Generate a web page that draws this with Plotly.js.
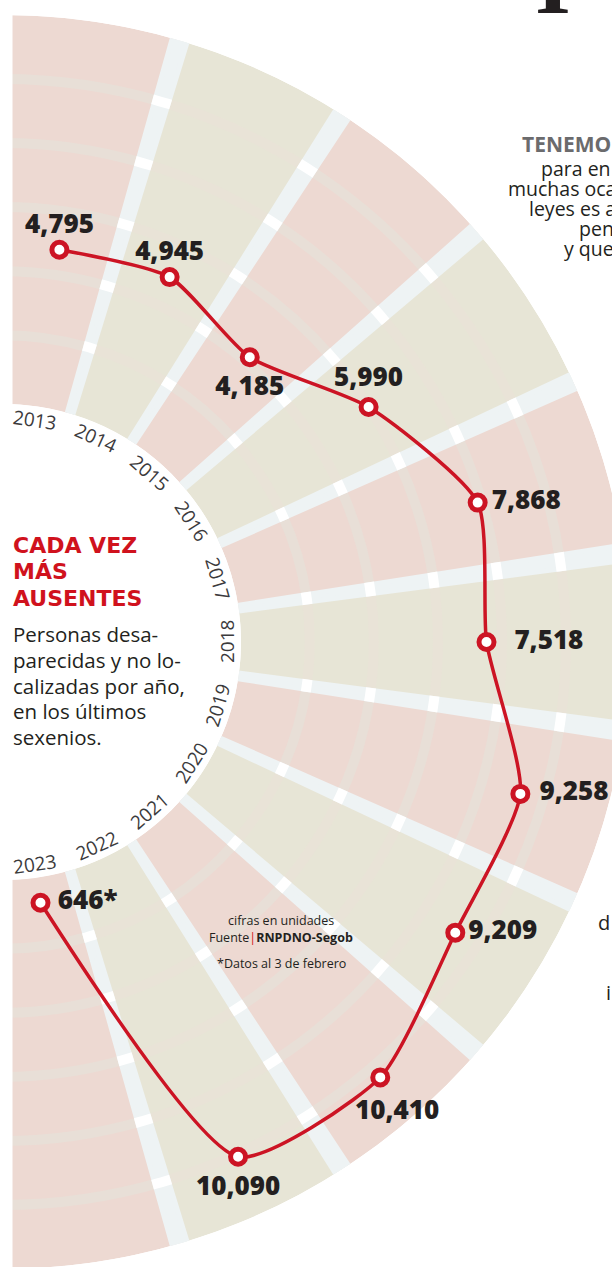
<!DOCTYPE html>
<html>
<head>
<meta charset="utf-8">
<script src="https://cdn.plot.ly/plotly-3.0.1.min.js"></script>
<style>
html,body{margin:0;padding:0;overflow:hidden;background:#fff;width:612px;height:1267px;}
#chart{position:absolute;left:0;top:0;width:640px;height:1290px;}
</style>
</head>
<body>
<div id="chart"></div>
<script>
// ---- data ----
const years = ['2013','2014','2015','2016','2017','2018','2019','2020','2021','2022','2023'];
const values = [4795, 4945, 4185, 5990, 7868, 7518, 9258, 9209, 10410, 10090, 646];
const valueLabels = ['4,795','4,945','4,185','5,990','7,868','7,518','9,258','9,209','10,410','10,090','646*'];
const ringValues = [2000, 4000, 6000, 8000, 10000];
const radialMin = -150, radialMax = 12000;

// ---- label placement (style) ----
const labelPositions = ['top center','top center','bottom center','top center','middle right','middle right','middle right','middle right','bottom center','bottom center','middle right'];
const labelGap = [15, 15, 27, 21, 21, 43, 29, 19, 33, 29, 26];
const labelPad = [0, 0, 0, 0, 0, 0, 0, 0, 5, 0, 0];

// ---- style ----
const PINK = '#edd9d2', GREEN = '#e7e5d6', GAP = '#eef3f4';
const RING_PINK = '#e8dfd7', RING_GREEN = '#e9e3d7';
const RED = '#cc1424', INK = '#231f20';

// ---- geometry of the figure ----
const W = 640, H = 1290, ML = 3, MR = 10, MT = 15, MB = 21;
const PW = W - ML - MR, PH = H - MT - MB;   // 627 x 1254
const R = PW, CX = ML, CY = MT + PH / 2;
const HOLE = 238 / R;
const pxPerUnit = (R - HOLE * R) / (radialMax - radialMin);
const px = x => (x - ML) / PW;
const py = y => 1 - (y - MT) / PH;

const step = 180 / years.length;
const thetas = years.map((_, i) => (i + 0.5) * step);
const bounds = years.slice(1).map((_, i) => (i + 1) * step);
const sectorColors = years.map((_, i) => i % 2 ? GREEN : PINK);
const ringColors = years.map((_, i) => i % 2 ? RING_GREEN : RING_PINK);

const ringThick = 10 / pxPerUnit;
const gapDeg = 1.4;
const lineInset = 2.5 / pxPerUnit;

const traces = [];
// sectors
traces.push({
  type: 'barpolar', theta: thetas, r: years.map(() => radialMax - radialMin), base: radialMin,
  width: step, marker: { color: sectorColors, line: { width: 0 } }, hoverinfo: 'skip', showlegend: false
});
// ring bands on sectors
{
  const th = [], rr = [], bb = [], cc = [];
  ringValues.forEach(v => years.forEach((_, i) => {
    th.push(thetas[i]); rr.push(ringThick); bb.push(v - ringThick / 2); cc.push(ringColors[i]);
  }));
  traces.push({ type: 'barpolar', theta: th, r: rr, base: bb, width: step,
    marker: { color: cc, line: { width: 0 } }, hoverinfo: 'skip', showlegend: false });
}
// gaps
traces.push({
  type: 'barpolar', theta: bounds, r: bounds.map(() => radialMax - radialMin), base: radialMin,
  width: gapDeg, marker: { color: GAP, line: { color: GAP, width: 5 } }, hoverinfo: 'skip', showlegend: false
});
// white crossings
{
  const th = [], rr = [], bb = [];
  ringValues.forEach(v => bounds.forEach(b => {
    th.push(b); rr.push(ringThick - 2 * lineInset); bb.push(v - ringThick / 2 + lineInset);
  }));
  traces.push({ type: 'barpolar', theta: th, r: rr, base: bb, width: gapDeg,
    marker: { color: '#ffffff', line: { color: '#ffffff', width: 5 } }, hoverinfo: 'skip', showlegend: false });
}
// line
traces.push({
  type: 'scatterpolar', r: values, theta: thetas, mode: 'lines+markers',
  line: { color: RED, width: 3.5, shape: 'spline', smoothing: 0.6 },
  marker: { size: 15, color: '#ffffff', line: { color: RED, width: 5 } },
  cliponaxis: false, hoverinfo: 'skip', showlegend: false
});
// value labels
traces.push({
  type: 'scatterpolar', r: values, theta: thetas, mode: 'markers+text',
  marker: { size: labelGap, opacity: 0 },
  text: valueLabels.map((t, i) => '\u00a0'.repeat(labelPad[i]) + t), textposition: labelPositions,
  textfont: { family: 'Open Sans', size: 26, weight: 800, color: INK },
  cliponaxis: false, hoverinfo: 'skip', showlegend: false
});

// ---- annotations ----
const ann = [];
const Rlab = 224;
years.forEach((y, i) => {
  const a = thetas[i], rad = a * Math.PI / 180;
  ann.push({
    xref: 'paper', yref: 'paper', x: px(CX + Rlab * Math.sin(rad)), y: py(CY - Rlab * Math.cos(rad)),
    xanchor: 'center', yanchor: 'middle', showarrow: false, text: y,
    textangle: a < 90 ? a : a - 180,
    font: { family: 'Open Sans', size: 19, color: '#3b3a3c' }
  });
});
function txt(t, x, baseline, o) {
  const f = Object.assign({ family: 'Open Sans', size: 20.5, color: INK }, o.font || {});
  const k = o.k !== undefined ? o.k : 0.39;
  ann.push({ xref: 'paper', yref: 'paper', x: px(x), y: py(baseline - k * f.size),
    xanchor: o.xa || 'left', yanchor: 'middle', showarrow: false, text: t, font: f, borderpad: 0 });
}
const headFont = { family: 'DejaVu Sans', size: 22, weight: 700, color: '#d0121d' };
txt('CADA VEZ', 12, 553, { font: headFont, k: 0.346 });
txt('MÁS', 12, 579.5, { font: headFont, k: 0.346 });
txt('AUSENTES', 12, 606, { font: headFont, k: 0.346 });
['Personas desa-', 'parecidas y no lo-', 'calizadas por año,', 'en los últimos', 'sexenios.'].forEach((t, i) => {
  txt(t, 12, 642 + i * 25.8, {});
});
// notes
txt('cifras en unidades', 281, 925, { xa: 'center', font: { size: 12.5 } });
txt('Fuente<span style="color:#d0121d">|</span><b>RNPDNO-Segob</b>', 281, 942, { xa: 'center', font: { size: 12.5 } });
txt('*Datos al 3 de febrero', 281, 968, { xa: 'center', font: { size: 12.5 } });
// cut-off text of the neighbouring column
txt('<b>TENEMO</b>', 521, 152, { font: { size: 21, color: '#6b6b6d' } });
txt('para en', 540, 176, { font: { size: 19.5 } });
txt('muchas oca', 507, 196, { font: { size: 19.5 } });
txt('leyes es a', 528, 216, { font: { size: 19.5 } });
txt('pen', 578, 236, { font: { size: 19.5 } });
txt('y que', 563, 256, { font: { size: 19.5 } });
txt('d', 597, 930, { font: { size: 20 } });
txt('i', 605, 1000, { font: { size: 20 } });
// big cut-off glyph at the top
txt('I', 534, 13, { font: { family: 'Liberation Serif', size: 92, weight: 700, color: INK }, k: 0.34 });

const layout = {
  width: W, height: H, margin: { l: ML, r: MR, t: MT, b: MB, pad: 0 },
  paper_bgcolor: '#ffffff', plot_bgcolor: '#ffffff', showlegend: false,
  polar: {
    domain: { x: [0, 1], y: [0, 1] }, sector: [-90, 90], hole: HOLE, bgcolor: 'rgba(0,0,0,0)',
    barmode: 'overlay',
    radialaxis: { range: [radialMin, radialMax], visible: false, showgrid: false },
    angularaxis: { rotation: 90, direction: 'clockwise', thetaunit: 'degrees', visible: false, showgrid: false }
  },
  shapes: [{ type: 'rect', xref: 'paper', yref: 'paper', x0: px(-30), x1: px(12.5), y0: py(H + 20), y1: py(-20),
    fillcolor: '#ffffff', line: { width: 0 }, layer: 'above' }],
  annotations: ann
};
Plotly.newPlot('chart', traces, layout, { staticPlot: true, displayModeBar: false });
</script>
</body>
</html>
